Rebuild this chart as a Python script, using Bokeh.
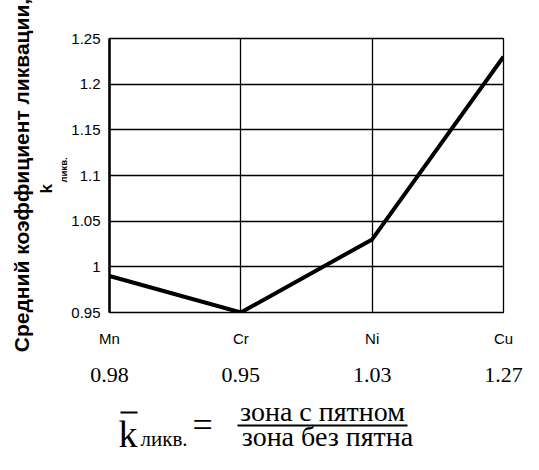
from bokeh.plotting import figure
from bokeh.layouts import column
from bokeh.models import Range1d, FixedTicker, LinearAxis, Title
from bokeh.core.properties import value
from bokeh.embed import file_html
from bokeh.resources import INLINE

# ---- data ----
categories = ["Mn", "Cr", "Ni", "Cu"]
mean_values = [0.99, 0.95, 1.03, 1.23]
ratio_labels = ["0.98", "0.95", "1.03", "1.27"]
y_ticks = [0.95, 1.0, 1.05, 1.1, 1.15, 1.2, 1.25]
y_tick_labels = ["0.95", "1", "1.05", "1.1", "1.15", "1.2", "1.25"]
y_title = "Средний коэффициент ликвации,"
k_symbol = "k"
k_subscript = "ликв."
numerator_text = "зона с пятном"
denominator_text = "зона без пятна"

x_idx = list(range(len(categories)))

SANS = "Liberation Sans"
SERIF = "Liberation Serif"
SERIF_STACK = "'Liberation Serif', 'DejaVu Serif', serif"

# ---- layout sizes (pixels) ----
TOTAL_W, TOTAL_H = 523, 454
TOP_H = 392
FORM_H = TOTAL_H - TOP_H
FR_L, FR_R, FR_T, FR_B = 109, 503, 38, 312   # plot frame edges

# ---------------- chart ----------------
p = figure(width=TOTAL_W, height=TOP_H, output_backend="svg", toolbar_location=None,
           x_range=Range1d(0, len(categories) - 1),
           y_range=Range1d(y_ticks[0], y_ticks[-1]),
           min_border_left=FR_L, min_border_right=TOTAL_W - FR_R,
           min_border_top=FR_T, min_border_bottom=TOP_H - FR_B)
p.background_fill_color = "white"
p.border_fill_color = "white"
p.outline_line_color = "black"
p.outline_line_width = 1.3


def plain_axis(ax):
    ax.major_tick_in = 0
    ax.major_tick_out = 0
    ax.minor_tick_in = 0
    ax.minor_tick_out = 0
    ax.major_label_text_color = "black"


yax = p.yaxis[0]
yax.ticker = FixedTicker(ticks=y_ticks)
yax.major_label_overrides = dict(zip(y_ticks, y_tick_labels))
plain_axis(yax)
yax.axis_line_color = "black"
yax.axis_line_width = 2.5
yax.major_label_standoff = 9
yax.major_label_text_font = SANS
yax.major_label_text_font_size = "15px"

xax = p.xaxis[0]
xax.ticker = FixedTicker(ticks=x_idx)
xax.major_label_overrides = dict(zip(x_idx, categories))
plain_axis(xax)
xax.axis_line_color = None
xax.major_label_standoff = 17
xax.major_label_text_font = SANS
xax.major_label_text_font_size = "15px"

xax2 = LinearAxis(ticker=FixedTicker(ticks=x_idx),
                  major_label_overrides=dict(zip(x_idx, ratio_labels)))
plain_axis(xax2)
xax2.axis_line_color = None
xax2.major_label_standoff = 18
xax2.major_label_text_font = SERIF
xax2.major_label_text_font_size = "22px"
p.add_layout(xax2, "below")

p.xgrid.ticker = FixedTicker(ticks=x_idx)
p.ygrid.ticker = FixedTicker(ticks=y_ticks)
p.grid.grid_line_color = "black"
p.grid.grid_line_width = 1.3
p.grid.grid_line_alpha = 1.0

p.line(x_idx, mean_values, line_color="black", line_width=4)

# ---- y-axis title, as side-panel titles (left side reads bottom to top) ----
sub_title = Title(text=k_subscript, text_font=SANS, text_font_size="9.5px",
                  text_font_style="bold", align="left", vertical_align="bottom",
                  offset=FR_B - 182, standoff=0, text_color="black")
k_title = Title(text=k_symbol, text_font=SANS, text_font_size="17px",
                text_font_style="bold", align="left", vertical_align="bottom",
                offset=FR_B - 193, standoff=0, text_color="black")
main_title = Title(text=y_title, text_font=SANS, text_font_size="21px",
                   text_font_style="bold", align="center", vertical_align="bottom",
                   standoff=4, text_color="black")
p.add_layout(sub_title, "left")
p.add_layout(k_title, "left")
p.add_layout(main_title, "left")

# ---------------- formula canvas ----------------
fm = figure(width=TOTAL_W, height=FORM_H, output_backend="svg", toolbar_location=None,
            x_range=Range1d(FR_L, FR_R), y_range=Range1d(0, FORM_H),
            min_border_left=FR_L, min_border_right=TOTAL_W - FR_R,
            min_border_top=0, min_border_bottom=0,
            x_axis_location=None, y_axis_location=None)
fm.grid.visible = False
fm.outline_line_color = None
fm.background_fill_color = "white"
fm.border_fill_color = "white"


def fy(page_y):
    return TOTAL_H - page_y


def fput(x, baseline_y, text, size_px, align="left"):
    # anchor at the middle of the text line, placed from the wanted baseline
    cy = baseline_y - 0.34 * size_px
    fm.text(x=[x], y=[fy(cy)], text=[text], text_font=value(SERIF_STACK),
            text_font_size=f"{size_px}px", text_align=align, text_baseline="middle",
            text_color="black")


def fbar(x0, x1, y0, y1):
    fm.quad(left=[x0], right=[x1], top=[fy(y0)], bottom=[fy(y1)],
            fill_color="black", line_color=None)


fput(118, 446, k_symbol, 38)
fbar(120, 137, 411, 413)
fput(140, 446, k_subscript, 21)
fput(192, 437, "=", 36)
fput(322, 421, numerator_text, 28, "center")
fbar(237, 407, 424, 426)
fput(327, 446, denominator_text, 28, "center")

layout = column(p, fm)
open("out.html", "w").write(file_html(layout, INLINE))
